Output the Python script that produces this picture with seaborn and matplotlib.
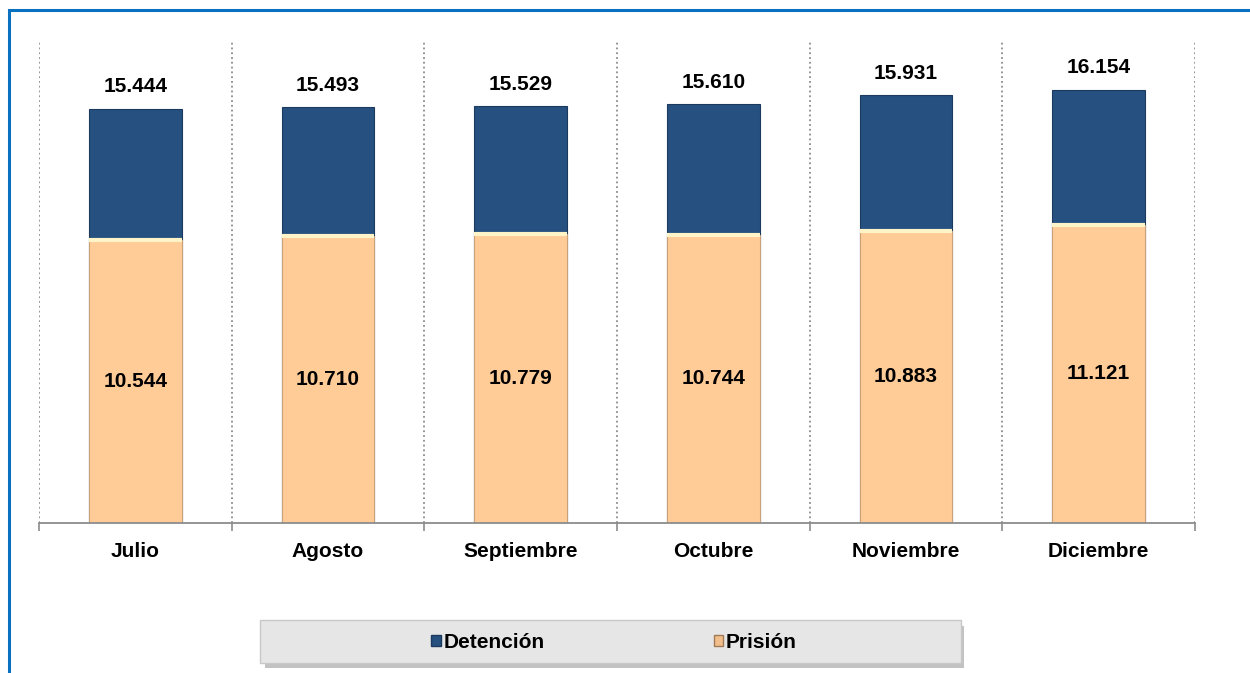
import numpy as np
import pandas as pd
import matplotlib
matplotlib.use("Agg")
import matplotlib.pyplot as plt
import seaborn as sns
from matplotlib.patches import Rectangle, FancyBboxPatch, Patch

# datos
meses = ["Julio", "Agosto", "Septiembre", "Octubre", "Noviembre", "Diciembre"]
prision = [10544, 10710, 10779, 10744, 10883, 11121]
detencion = [4900, 4783, 4750, 4866, 5048, 5033]

azul = "#25507F"
durazno = "#FFCB97"

df = pd.DataFrame({"mes": meses, "Prisión": prision, "Detención": detencion})
df["total"] = df["Prisión"] + df["Detención"]

sns.set_style("white")
plt.rcParams["font.family"] = ["Liberation Sans", "DejaVu Sans"]
plt.rcParams["text.color"] = "black"
plt.rcParams["xtick.color"] = "black"

fig = plt.figure(figsize=(12.5, 6.73), dpi=100)
ax = fig.add_axes([0.0312, 0.2229, 0.9248, 0.7177])

# barras apiladas: total (detencion) y prision por delante
sns.barplot(data=df, x="mes", y="total", color=azul, width=0.48, ax=ax,
            edgecolor="#1b3a5e", linewidth=0.8, saturation=1)
sns.barplot(data=df, x="mes", y="Prisión", color=durazno, width=0.48, ax=ax,
            edgecolor="#c9a27a", linewidth=0.8, saturation=1)

# linea clara entre segmentos
for i, p in enumerate(prision):
    ax.plot([i - 0.24, i + 0.24], [p, p], color="#FFF3C8", lw=3, zorder=5,
            solid_capstyle="butt")

for i, (p, t) in enumerate(zip(prision, df["total"])):
    ax.text(i, p / 2, f"{p:,}".replace(",", "."), ha="center", va="center",
            fontsize=15, fontweight="bold", color="black", zorder=6)
    ax.text(i, t + 450, f"{t:,}".replace(",", "."), ha="center", va="bottom",
            fontsize=15, fontweight="bold", color="black")

ax.set_xlim(-0.5, 5.5)
ax.set_ylim(0, 18000)
ax.set_xlabel("")
ax.set_ylabel("")
ax.set_yticks([])

# rejilla vertical punteada en los limites de categoria
bordes = np.arange(-0.5, 6, 1)
ax.set_xticks(bordes, minor=True)
ax.grid(False)
ax.grid(True, which="minor", axis="x", linestyle=":", color="#8c8c8c", lw=1.3)
ax.tick_params(axis="x", which="major", length=0, pad=14, labelsize=15,
               labelcolor="black")
ax.tick_params(axis="x", which="minor", bottom=True, length=6, width=1.2,
               color="#8c8c8c", direction="out")
for lab in ax.get_xticklabels():
    lab.set_fontweight("bold")

for s in ["top", "right", "left"]:
    ax.spines[s].set_visible(False)
ax.spines["bottom"].set_color("#8c8c8c")
ax.spines["bottom"].set_linewidth(1.3)

# marco azul
fig.patches.append(Rectangle((0.0072, -0.2), 1.5, 0.985 + 0.2,
                             transform=fig.transFigure, fill=False,
                             edgecolor="#0A70C0", lw=2.2))

# caja de leyenda
fig.patches.append(FancyBboxPatch((0.212, 0.008), 0.559, 0.062,
                                  boxstyle="square,pad=0", transform=fig.transFigure,
                                  facecolor="#9a9a9a", edgecolor="none", alpha=0.6))
fig.patches.append(FancyBboxPatch((0.208, 0.015), 0.561, 0.064,
                                  boxstyle="square,pad=0", transform=fig.transFigure,
                                  facecolor="#E6E6E6", edgecolor="#c8c8c8", lw=1))

handles = [Patch(facecolor=azul, edgecolor="#1b3a5e", label="Detención"),
           Patch(facecolor="#F2BE8C", edgecolor="#a07a55", label="Prisión")]
leg = fig.legend(handles=handles, loc="center", bbox_to_anchor=(0.4912, 0.046),
                 ncol=2, frameon=False, handlelength=0.45, handleheight=0.45,
                 handletextpad=0.15, columnspacing=8.1,
                 prop={"size": 15, "weight": "bold"})
for t in leg.get_texts():
    t.set_color("black")

fig.savefig("out.png", dpi=100)
